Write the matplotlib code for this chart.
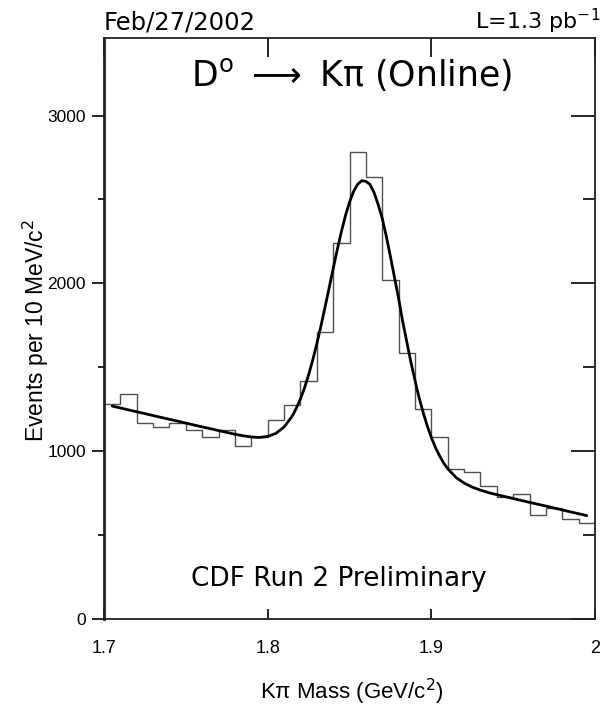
import matplotlib
matplotlib.use("Agg")
import matplotlib.pyplot as plt
from matplotlib.ticker import FixedLocator

# ---- data ----
mass_bin_edges = [1.70, 1.71, 1.72, 1.73, 1.74, 1.75, 1.76, 1.77, 1.78, 1.79,
                  1.80, 1.81, 1.82, 1.83, 1.84, 1.85, 1.86, 1.87, 1.88, 1.89,
                  1.90, 1.91, 1.92, 1.93, 1.94, 1.95, 1.96, 1.97, 1.98, 1.99, 2.00]
events = [1279, 1339, 1170, 1146, 1166, 1126, 1087, 1126, 1033, 1087,
          1186, 1275, 1420, 1709, 2243, 2781, 2632, 2020, 1583, 1253,
          1087, 892, 874, 795, 729, 745, 620, 660, 594, 574]

fit_mass = [1.705, 1.715, 1.725, 1.735, 1.745, 1.755, 1.765, 1.775, 1.780, 1.785,
            1.790, 1.795, 1.800, 1.805, 1.810, 1.815, 1.8175, 1.820, 1.8225, 1.825,
            1.8275, 1.830, 1.8325, 1.835, 1.8375, 1.840, 1.8425, 1.845, 1.8475, 1.850,
            1.8525, 1.855, 1.8575, 1.860, 1.8625, 1.865, 1.8675, 1.870, 1.8725, 1.875,
            1.8775, 1.880, 1.8825, 1.885, 1.8875, 1.890, 1.8925, 1.895, 1.8975, 1.900,
            1.9025, 1.905, 1.9075, 1.910, 1.915, 1.920, 1.925, 1.930, 1.935, 1.940,
            1.950, 1.960, 1.970, 1.980, 1.995]
fit_events = [1269, 1246, 1224, 1201, 1179, 1156, 1134, 1112, 1101, 1092,
              1085, 1082, 1088, 1106, 1144, 1209, 1256, 1311, 1377, 1455,
              1542, 1639, 1744, 1856, 1971, 2087, 2200, 2307, 2403, 2484,
              2548, 2591, 2612, 2608, 2590, 2542, 2470, 2388, 2280, 2160,
              2035, 1910, 1773, 1652, 1531, 1423, 1320, 1231, 1151, 1082,
              1022, 973, 930, 896, 844, 810, 786, 768, 753, 741,
              718, 695, 673, 650, 616]

x_ticks = [1.7, 1.8, 1.9, 2.0]
x_tick_labels = ["1.7", "1.8", "1.9", "2"]
y_ticks = [0, 1000, 2000, 3000]
y_minor = [500, 1500, 2500]

# ---- figure ----
W, H = 600, 708
fig = plt.figure(figsize=(W / 100, H / 100), dpi=100)
L, R, T, B = 104, 595, 38, 619
ax = fig.add_axes([L / W, 1 - B / H, (R - L) / W, (B - T) / H])

ax.stairs(events, mass_bin_edges, baseline=None, color="#505050", lw=1.0)
ax.plot(fit_mass, fit_events, color="black", lw=2.0, solid_capstyle="round",
        solid_joinstyle="round")

ax.set_xlim(1.7, 2.0)
ax.set_ylim(0, (B - T) / 167.8 * 1000)

for s in ax.spines.values():
    s.set_linewidth(1.3)
    s.set_color("#222222")
ax.spines["left"].set_linewidth(2.0)

lab_font = "Liberation Sans"
ax.xaxis.set_major_locator(FixedLocator(x_ticks))
ax.set_xticklabels(x_tick_labels, fontsize=13, family=lab_font)
ax.yaxis.set_major_locator(FixedLocator(y_ticks))
ax.yaxis.set_minor_locator(FixedLocator(y_minor))
ax.set_yticklabels([str(v) for v in y_ticks], fontsize=12.5, family=lab_font)
ax.tick_params(axis="x", which="major", direction="in", length=7, width=1.2, pad=15)
ax.tick_params(axis="y", which="major", direction="out", length=9, width=1.2, pad=4)
ax.tick_params(axis="y", which="minor", direction="out", length=4, width=1.2)

# top and right axes: inward ticks, no labels
tax = ax.secondary_xaxis("top")
tax.xaxis.set_major_locator(FixedLocator(x_ticks))
tax.tick_params(direction="in", length=14, width=1.2, labeltop=False)
tax.spines["top"].set_visible(False)
rax = ax.secondary_yaxis("right")
rax.yaxis.set_major_locator(FixedLocator(y_ticks))
rax.yaxis.set_minor_locator(FixedLocator(y_minor))
rax.tick_params(which="major", direction="in", length=17, width=1.2, labelright=False)
rax.tick_params(which="minor", direction="in", length=9, width=1.2)
rax.spines["right"].set_visible(False)

ax.set_xlabel("Kπ Mass (GeV/c$^2$)", fontsize=16, family=lab_font)
ax.xaxis.set_label_coords(0.504, -0.099)
ax.set_ylabel("Events per 10 MeV/c$^2$", fontsize=16.5, family=lab_font)
ax.yaxis.set_label_coords(-0.108, 0.497)

ttl_font = "DejaVu Sans"
fig.text(L / W, 1 - 29 / H, "Feb/27/2002", fontsize=17.5, family=ttl_font,
         ha="left", va="baseline")
fig.text(600 / W, 1 - 29 / H, r"L=1.3 pb$^{-1}$", fontsize=16, family=ttl_font,
         ha="right", va="baseline")
ax.text(0.505, 0.938, r"D$^{\mathsf{o}}$ $\longrightarrow$ Kπ (Online)", transform=ax.transAxes,
        fontsize=25, family=ttl_font, ha="center", va="center")
ax.text(0.478, 0.069, "CDF Run 2 Preliminary", transform=ax.transAxes,
        fontsize=19, family=ttl_font, ha="center", va="center")

fig.savefig("out.png", dpi=100)
